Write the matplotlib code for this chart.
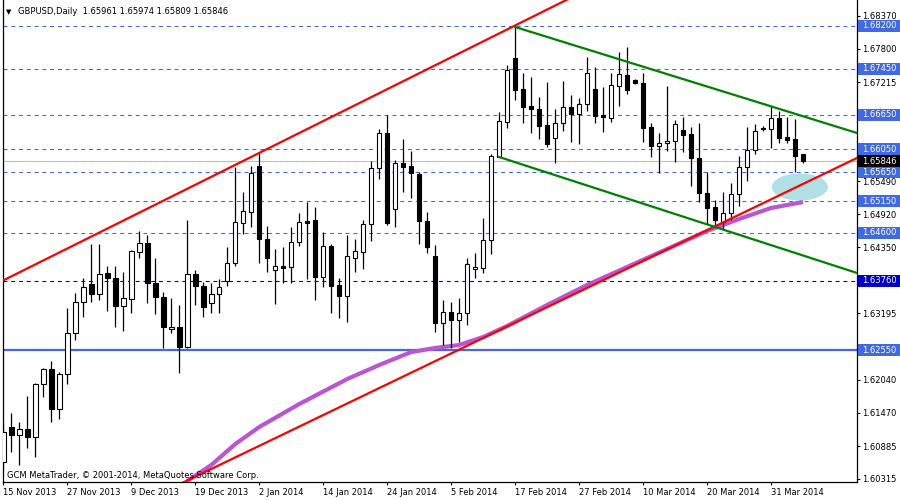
import numpy as np
import matplotlib.pyplot as plt
from matplotlib.patches import Ellipse, Rectangle
from matplotlib.transforms import blended_transform_factory

plt.rcParams['font.family'] = 'DejaVu Sans'
plt.rcParams['font.size'] = 6

# GBPUSD daily, 15 Nov 2013 - 4 Apr 2014
opens = [
    1.60609, 1.61218, 1.61079, 1.61183, 1.61044, 1.61966, 1.62227, 1.61531, 1.62140, 1.62854,
    1.63393, 1.63706, 1.63532, 1.63898, 1.63811, 1.63324, 1.63445, 1.64263, 1.64420, 1.63724,
    1.63480, 1.62923, 1.62958, 1.62610, 1.63880, 1.63672, 1.63376, 1.63532, 1.63759, 1.64072,
    1.64768, 1.64959, 1.65760, 1.64489, 1.63950, 1.64020, 1.64002, 1.64437, 1.64803, 1.64820,
    1.63828, 1.64368, 1.63689, 1.63498, 1.64159, 1.64263, 1.64750, 1.65725, 1.66334, 1.65011,
    1.65812, 1.65760, 1.65620, 1.64803, 1.64194, 1.63028, 1.63219, 1.63080, 1.63202, 1.63967,
    1.63985, 1.64472, 1.65916, 1.66525, 1.67639, 1.67099, 1.66804, 1.66751, 1.66473, 1.66247,
    1.66508, 1.66786, 1.66664, 1.66838, 1.67099, 1.66647, 1.66595, 1.67152, 1.67343, 1.67256,
    1.67204, 1.66438, 1.66108, 1.66160, 1.66195, 1.66386, 1.66316, 1.65899, 1.65290, 1.65046,
    1.64785, 1.64942, 1.65272, 1.65742, 1.66038, 1.66421, 1.66403, 1.66595, 1.66264, 1.66229,
    1.65961]
highs = [
    1.61305, 1.61462, 1.61305, 1.61758, 1.61984, 1.62245, 1.62367, 1.62175, 1.63289, 1.63550,
    1.63811, 1.64402, 1.64402, 1.64020, 1.64020, 1.63915, 1.64298, 1.64629, 1.64559, 1.64159,
    1.63567, 1.63463, 1.63341, 1.64820, 1.63950, 1.63741, 1.63724, 1.63793, 1.64350, 1.65742,
    1.65307, 1.65760, 1.66003, 1.64716, 1.64315, 1.64350, 1.64698, 1.64942, 1.65133, 1.65046,
    1.64611, 1.64402, 1.63811, 1.64559, 1.64489, 1.64820, 1.65847, 1.66403, 1.66647, 1.65864,
    1.66229, 1.66021, 1.65655, 1.64959, 1.64385, 1.63428, 1.63393, 1.63463, 1.64159, 1.64246,
    1.64855, 1.65968, 1.66699, 1.67517, 1.68178, 1.67378, 1.67308, 1.66960, 1.67221, 1.66751,
    1.67239, 1.66995, 1.66943, 1.67656, 1.67482, 1.67134, 1.67378, 1.67743, 1.67830, 1.67273,
    1.67378, 1.66508, 1.66334, 1.67152, 1.66560, 1.66612, 1.66438, 1.66508, 1.65655, 1.65168,
    1.65307, 1.65464, 1.65934, 1.66438, 1.66490, 1.66456, 1.66804, 1.66717, 1.66612, 1.66577,
    1.65974]
lows = [
    1.60470, 1.60784, 1.60557, 1.60853, 1.60696, 1.61740, 1.61305, 1.61357, 1.61966, 1.62732,
    1.63132, 1.63393, 1.63428, 1.63237, 1.62958, 1.62889, 1.63202, 1.64159, 1.63376, 1.63184,
    1.62593, 1.62854, 1.62158, 1.62593, 1.63341, 1.63132, 1.63202, 1.63202, 1.63672, 1.64020,
    1.64576, 1.64698, 1.64072, 1.63915, 1.63358, 1.63724, 1.63724, 1.64368, 1.63793, 1.63428,
    1.63654, 1.63202, 1.63115, 1.63045, 1.63915, 1.63967, 1.64455, 1.65533, 1.64733, 1.64698,
    1.65307, 1.65203, 1.64402, 1.64246, 1.62871, 1.62645, 1.62593, 1.62697, 1.62993, 1.63811,
    1.63898, 1.64228, 1.65916, 1.66421, 1.66908, 1.66508, 1.66334, 1.66229, 1.66090, 1.65812,
    1.66369, 1.66177, 1.66142, 1.66717, 1.66508, 1.66351, 1.66525, 1.66804, 1.67012, 1.67186,
    1.66177, 1.65916, 1.65638, 1.66021, 1.65829, 1.66003, 1.65412, 1.65133, 1.64750, 1.64733,
    1.64646, 1.64820, 1.65064, 1.65499, 1.65968, 1.66369, 1.66073, 1.66160, 1.66160, 1.65655,
    1.65809]
closes = [
    1.61131, 1.61079, 1.61183, 1.61044, 1.61966, 1.62227, 1.61531, 1.62140, 1.62854, 1.63393,
    1.63654, 1.63532, 1.63880, 1.63811, 1.63324, 1.63463, 1.64281, 1.64420, 1.63724, 1.63480,
    1.62958, 1.62958, 1.62610, 1.63880, 1.63672, 1.63306, 1.63532, 1.63654, 1.64072, 1.64785,
    1.64977, 1.65638, 1.64489, 1.64159, 1.64020, 1.63985, 1.64437, 1.64785, 1.64768, 1.63828,
    1.64368, 1.63672, 1.63498, 1.64194, 1.64281, 1.64750, 1.65725, 1.66334, 1.64768, 1.65812,
    1.65742, 1.65638, 1.64803, 1.64350, 1.63028, 1.63219, 1.63080, 1.63202, 1.64054, 1.64002,
    1.64472, 1.65934, 1.66543, 1.67430, 1.67082, 1.66786, 1.66751, 1.66456, 1.66142, 1.66508,
    1.66786, 1.66664, 1.66838, 1.67378, 1.66630, 1.66612, 1.67169, 1.67360, 1.67082, 1.67204,
    1.66421, 1.66108, 1.66160, 1.66195, 1.66490, 1.66299, 1.65899, 1.65290, 1.65029, 1.64820,
    1.64942, 1.65272, 1.65742, 1.66038, 1.66369, 1.66403, 1.66595, 1.66247, 1.66212, 1.65934,
    1.65846]

# moving average (purple), sampled at bar numbers
ma_bars = [23, 26, 29, 32, 37, 43, 47, 51, 54, 57, 60, 63, 68, 73, 78, 83, 88, 92, 96, 100]
ma_vals = [1.60279, 1.60557, 1.60922, 1.61218, 1.61618, 1.62053, 1.62297, 1.62522, 1.62593, 1.62645,
           1.62784, 1.62976, 1.63341, 1.63689, 1.64002, 1.64315, 1.64629, 1.64837, 1.65029, 1.65133]

date_ticks = [0, 8, 16, 24, 32, 40, 48, 56, 64, 72, 80, 88, 96]
date_labels = ['15 Nov 2013', '27 Nov 2013', '9 Dec 2013', '19 Dec 2013', '2 Jan 2014', '14 Jan 2014',
               '24 Jan 2014', '5 Feb 2014', '17 Feb 2014', '27 Feb 2014', '10 Mar 2014', '20 Mar 2014',
               '31 Mar 2014']
price_ticks = [1.68370, 1.67800, 1.67215, 1.65490, 1.64920, 1.64350, 1.63195, 1.62610,
               1.62040, 1.61470, 1.60885, 1.60315]

dash_levels = [1.68200, 1.67450, 1.66650, 1.66050, 1.65650, 1.65150, 1.64600]
dark_level = 1.63760
solid_level = 1.62550

# trend lines: two anchor points each (bar, price)
red_upper = [(0, 1.63770), (64, 1.68205)]
red_lower = [(22, 1.60220), (89, 1.64710)]
green_upper = [(64, 1.68178), (106.75, 1.66334)]
green_lower = [(62, 1.65916), (106.75, 1.63898)]

x_max = 106.75
y_lo, y_hi = 1.60261, 1.68648

fig = plt.figure(figsize=(9, 5), dpi=100)
ax = fig.add_axes([3 / 900, 18 / 500, 854 / 900, 482 / 500])
ax.set_xlim(-0.05, x_max)
ax.set_ylim(y_lo, y_hi)

dash = (0, (3.5, 3.5))
for lv in dash_levels:
    ax.axhline(lv, color='#4169E1', lw=0.8, ls=dash, zorder=1)
ax.axhline(dark_level, color='#0000CD', lw=0.8, ls=dash, zorder=1)
ax.axhline(solid_level, color='#4169E1', lw=1.6, zorder=1)
ax.axhline(closes[-1], color='#C0C0C0', lw=0.8, zorder=1)

# ellipse
ax.add_patch(Ellipse((99.6, 1.65394), 7.0, 0.0047, facecolor='#B0E0E6', edgecolor='none', zorder=2))

# moving average
ax.plot(ma_bars, ma_vals, color='#BA55D3', lw=3, solid_capstyle='butt', zorder=3)

# candles
o = np.array(opens); h = np.array(highs); l = np.array(lows); c = np.array(closes)
x = np.arange(len(o))
up = c >= o
ax.vlines(x, l, h, color='black', lw=0.9, zorder=4)
body_h = np.maximum(np.abs(c - o), 0.00009)
ax.bar(x, body_h, bottom=np.minimum(o, c), width=0.55,
       color=np.where(up, 'white', 'black'), edgecolor='black', linewidth=0.8, zorder=5)


def ray(p, x_start, x_end):
    (x0, y0), (x1, y1) = p
    k = (y1 - y0) / (x1 - x0)
    return [x_start, x_end], [y0 + k * (x_start - x0), y0 + k * (x_end - x0)]


for pts, col, xs in [(red_upper, '#FF0000', 0), (red_lower, '#FF0000', 0),
                     (green_upper, '#008000', 64), (green_lower, '#008000', 62)]:
    xx, yy = ray(pts, xs, x_max)
    ax.plot(xx, yy, color=col, lw=1.6, zorder=6)

# axes styling
for s in ['left', 'right', 'bottom']:
    ax.spines[s].set_color('black')
    ax.spines[s].set_linewidth(0.9)
ax.spines['top'].set_visible(False)

ax.yaxis.tick_right()
ax.set_yticks(price_ticks)
ax.set_yticklabels([f'{v:.5f}' for v in price_ticks])
ax.tick_params(axis='y', direction='out', length=2.5, width=0.8, pad=1.5, labelsize=6)

ax.set_xticks(date_ticks)
ax.set_xticklabels(date_labels)
for lab in ax.get_xticklabels():
    lab.set_horizontalalignment('left')
ax.tick_params(axis='x', direction='out', length=2.5, width=0.8, pad=1.5, labelsize=6)

# price labels on the right axis
tr = blended_transform_factory(ax.transAxes, ax.transData)
box_h = 12 * (y_hi - y_lo) / 482
labels = [(lv, '#4169E1') for lv in dash_levels] + [(dark_level, '#0000CD'), (solid_level, '#4169E1'),
                                                     (closes[-1], 'black')]
for lv, col in labels:
    ax.add_patch(Rectangle((855 / 854, lv - box_h / 2), 45 / 854, box_h, transform=tr,
                           facecolor=col, edgecolor='none', clip_on=False, zorder=10))
    ax.text(859 / 854, lv, f'{lv:.5f}', transform=tr, color='white', fontsize=6,
            va='center', ha='left', clip_on=False, zorder=11)

fig.text(6 / 900, 1 - 12 / 500, '▼', fontsize=5, va='center', ha='left')
fig.text(18 / 900, 1 - 12 / 500, 'GBPUSD,Daily  1.65961 1.65974 1.65809 1.65846', fontsize=6,
         va='center', ha='left')
ax.text(4 / 854, 7 / 482, 'GCM MetaTrader, © 2001-2014, MetaQuotes Software Corp.', transform=ax.transAxes,
        fontsize=6, va='center', ha='left', zorder=12)

fig.savefig('out.png', dpi=100)
